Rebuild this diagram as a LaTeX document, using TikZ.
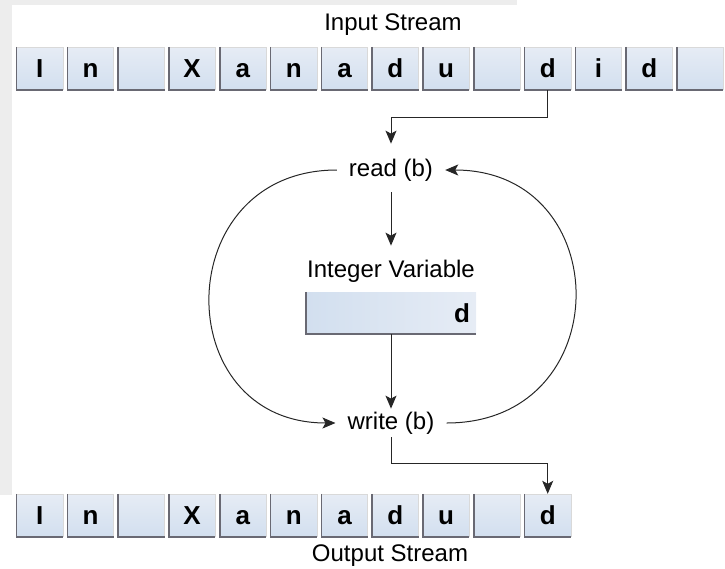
\documentclass[tikz,border=0pt]{standalone}
\usepackage{fontspec}
\setmainfont{Liberation Sans}
\usetikzlibrary{arrows.meta}
\definecolor{bggrey}{RGB}{237,237,237}
\definecolor{cellblue}{RGB}{210,223,239}
\definecolor{celllight}{RGB}{230,236,245}
\definecolor{cellshade}{RGB}{105,105,115}
\begin{document}
\begin{tikzpicture}
    [x=1pt,y=-1pt,
     cell/.style={minimum width=46pt,minimum height=43pt,inner sep=0pt,
        top color=celllight,bottom color=cellblue,
        text height=18pt,text depth=0pt,font=\fontsize{26}{26}\selectfont\bfseries},
     edge/.style={draw=cellshade,line width=1.6pt},
     rim/.style={draw=black!15,line width=0.6pt},
     caption/.style={inner sep=2pt,font=\fontsize{24}{24}\selectfont},
     step label/.style={inner xsep=12pt,inner ysep=3pt,font=\fontsize{24}{24}\selectfont},
     flow/.style={draw=black!85,line width=1pt,-{Stealth[length=13pt,width=11pt,inset=3pt]}}]
    \useasboundingbox (0,0) rectangle (725,568);
    \fill[bggrey] (0,0) rectangle (517,5);
    \fill[bggrey] (0,0) rectangle (12,495);
    % input stream
    \foreach \ch [count=\i from 0] in {I,n,{},X,a,n,a,d,u,{},d,i,d,{}} {
        \node[cell] (in\i) at (39.7+50.8*\i,68.5) {\ch};
        \draw[rim] (in\i.north west) -- (in\i.north east) -- (in\i.south east);
        \draw[edge] (in\i.north west) |- (in\i.south east);
    }
    \node[caption] (instream) at (393,25) {Input Stream};
    % output stream
    \foreach \ch [count=\i from 0] in {I,n,{},X,a,n,a,d,u,{},d} {
        \node[cell] (out\i) at (39.7+50.8*\i,515.5) {\ch};
        \draw[rim] (out\i.north west) -- (out\i.north east) -- (out\i.south east);
        \draw[edge] (out\i.north west) |- (out\i.south east);
    }
    \node[caption] (outstream) at (390,556) {Output Stream};
    % loop
    \node[step label] (read) at (391,170) {read (b)};
    \node[caption] (varname) at (391,271) {Integer Variable};
    \node[minimum width=170pt,minimum height=42pt,text width=158pt,inner xsep=6pt,
        align=right,left color=cellblue,right color=celllight,
        font=\fontsize{26}{26}\selectfont\bfseries] (var) at (391,313) {d};
    \draw[edge] (var.north west) |- (var.south east);
    \node[step label] (write) at (391,423) {write (b)};
    \draw[flow] (in10.south) -- ++(0,27) -| ([yshift=12pt]read.north);
    \draw[flow] ([yshift=-8pt]read.south) -- ([yshift=12pt]varname.north);
    \draw[flow] (var.south) -- (write.north);
    \draw[flow] (read.west) .. controls +(-168,0) and +(-168,0) .. (write.west);
    \draw[flow] (write.east) .. controls +(172,0) and +(172,0) .. (read.east);
    \draw[flow] (write.south) |- ([yshift=30pt]out10.north) -- (out10.north);
\end{tikzpicture}
\end{document}
